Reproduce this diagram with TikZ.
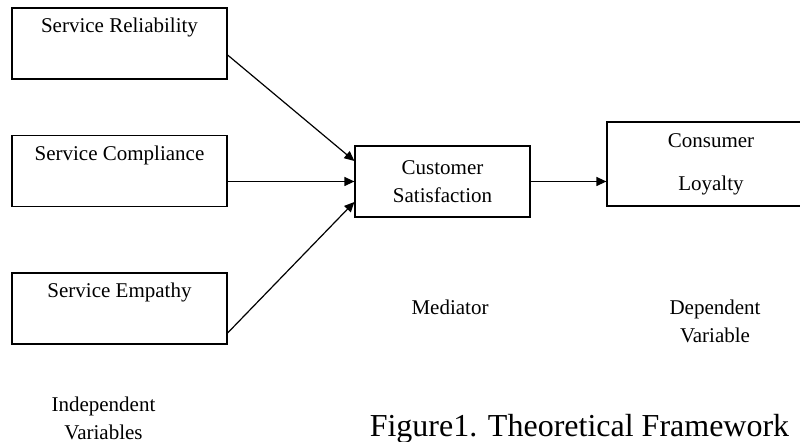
\documentclass[tikz,border=0pt]{standalone}
\usepackage{fontspec}
\setmainfont{Liberation Serif}
\usepackage{tikz}
\usetikzlibrary{arrows.meta, positioning, calc}
\tikzset{
  >=Stealth,
  linkarrow/.style={-{Triangle[length=5pt, width=4.5pt]}, line width=0.6pt, black},
  ivbox/.style={draw, line width=0.6pt, minimum width=107.5pt, inner sep=0pt, text height=12.5pt, text depth=23pt},
  medbox/.style={draw, line width=0.6pt, minimum width=87.5pt, minimum height=35.5pt, inner sep=0pt, align=center},
  depbox/.style={draw, line width=0.6pt, minimum width=104pt, minimum height=42pt, inner sep=0pt, align=center},
  tag/.style={anchor=base, align=center}
}

\begin{document}
\begin{tikzpicture}[x=0.5pt, y=-0.5pt, font=\fontsize{10.5}{14}\selectfont]
    \useasboundingbox (0,0) rectangle (800,442);

    % independent variables
    \node (sr) [ivbox] at (119.5,43.5) {Service Reliability};
    \node (sc) [ivbox] at (119.5,171) {Service Compliance};
    \node (se) [ivbox] at (119.5,308.5) {Service Empathy};

    % mediator and dependent variable
    \node (cs) [medbox] at (442.5,181.5) {Customer\\Satisfaction};
    \node (cl) [depbox] at (711,164) {Consumer\\[7.5pt]Loyalty};

    \draw[linkarrow] ($(sr.east)+(0,11.5)$) -- ($(cs.west)+(0,-20.5)$);
    \draw[linkarrow] (sc.east |- cs.west) -- (cs.west);
    \draw[linkarrow] ($(se.east)+(0,24.5)$) -- ($(cs.west)+(0,20.5)$);
    \draw[linkarrow] (cs.east) -- (cs.east -| cl.west);

    % captions
    \node (indep) [tag] at (103.5,440) {Independent\\Variables};
    \node (med) [tag] at (450,315) {Mediator};
    \node (dep) [tag] at (715,343) {Dependent\\Variable};
    \node (fig) [anchor=base, font=\fontsize{16}{19}\selectfont] at (579.5,437) {Figure1. Theoretical Framework};
\end{tikzpicture}
\end{document}
